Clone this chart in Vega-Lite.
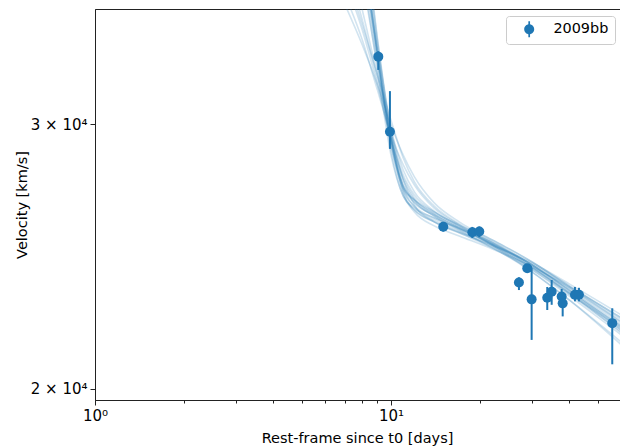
{
  "$schema": "https://vega.github.io/schema/vega-lite/v6.json",
  "autosize": {"type": "none"},
  "padding": {"left": 95, "top": 9, "right": 0, "bottom": 48},
  "width": 525,
  "height": 391,
  "background": "white",
  "config": {
    "font": "DejaVu Sans",
    "view": {"stroke": "#222222", "strokeWidth": 1},
    "axis": {"grid": false, "domainColor": "#222222", "tickColor": "#222222", "labelColor": "#000000", "titleColor": "#000000", "titleFontWeight": "normal", "labelFontSize": 15, "titleFontSize": 14.5, "labelFont": "DejaVu Sans"}
  },
  "datasets": {
    "curves": [
      {"c":1,"x":7,"y":47410},{"c":1,"x":8,"y":39570},{"c":1,"x":9,"y":33500},{"c":1,"x":10,"y":29280},{"c":1,"x":11,"y":27120},{"c":1,"x":12,"y":26460},{"c":1,"x":14,"y":25980},{"c":1,"x":17,"y":25550},{"c":1,"x":22,"y":24970},{"c":1,"x":30,"y":24140},{"c":1,"x":40,"y":23270},{"c":1,"x":60,"y":22020},
      {"c":2,"x":7,"y":45630},{"c":2,"x":8,"y":38560},{"c":2,"x":9,"y":33090},{"c":2,"x":10,"y":29050},{"c":2,"x":11,"y":27200},{"c":2,"x":12,"y":26710},{"c":2,"x":14,"y":26220},{"c":2,"x":17,"y":25670},{"c":2,"x":22,"y":24930},{"c":2,"x":30,"y":24000},{"c":2,"x":40,"y":23060},{"c":2,"x":60,"y":21720},
      {"c":3,"x":7,"y":48510},{"c":3,"x":8,"y":40370},{"c":3,"x":9,"y":33860},{"c":3,"x":10,"y":29820},{"c":3,"x":11,"y":27540},{"c":3,"x":12,"y":26510},{"c":3,"x":14,"y":25830},{"c":3,"x":17,"y":25400},{"c":3,"x":22,"y":24900},{"c":3,"x":30,"y":24220},{"c":3,"x":40,"y":23420},{"c":3,"x":60,"y":22300},
      {"c":4,"x":7,"y":39760},{"c":4,"x":8,"y":35720},{"c":4,"x":9,"y":32340},{"c":4,"x":10,"y":29730},{"c":4,"x":11,"y":27960},{"c":4,"x":12,"y":27040},{"c":4,"x":14,"y":26260},{"c":4,"x":17,"y":25670},{"c":4,"x":22,"y":25010},{"c":4,"x":30,"y":24180},{"c":4,"x":40,"y":23310},{"c":4,"x":60,"y":22090},
      {"c":5,"x":7,"y":37400},{"c":5,"x":8,"y":34640},{"c":5,"x":9,"y":31850},{"c":5,"x":10,"y":29280},{"c":5,"x":11,"y":27620},{"c":5,"x":12,"y":26790},{"c":5,"x":14,"y":26140},{"c":5,"x":17,"y":25590},{"c":5,"x":22,"y":24930},{"c":5,"x":30,"y":24070},{"c":5,"x":40,"y":23170},{"c":5,"x":60,"y":21890},
      {"c":6,"x":7,"y":49250},{"c":6,"x":8,"y":40990},{"c":6,"x":9,"y":34120},{"c":6,"x":10,"y":29500},{"c":6,"x":11,"y":27040},{"c":6,"x":12,"y":26300},{"c":6,"x":14,"y":25830},{"c":6,"x":17,"y":25430},{"c":6,"x":22,"y":24930},{"c":6,"x":30,"y":24260},{"c":6,"x":40,"y":23490},{"c":6,"x":60,"y":22400},
      {"c":7,"x":7,"y":46330},{"c":7,"x":8,"y":39150},{"c":7,"x":9,"y":33340},{"c":7,"x":10,"y":28830},{"c":7,"x":11,"y":26870},{"c":7,"x":12,"y":26380},{"c":7,"x":14,"y":25980},{"c":7,"x":17,"y":25590},{"c":7,"x":22,"y":25050},{"c":7,"x":30,"y":24180},{"c":7,"x":40,"y":23240},{"c":7,"x":60,"y":21890},
      {"c":8,"x":7,"y":47770},{"c":8,"x":8,"y":39760},{"c":8,"x":9,"y":33600},{"c":8,"x":10,"y":29370},{"c":8,"x":11,"y":27330},{"c":8,"x":12,"y":26710},{"c":8,"x":14,"y":26140},{"c":8,"x":17,"y":25630},{"c":8,"x":22,"y":24900},{"c":8,"x":30,"y":23920},{"c":8,"x":40,"y":22920},{"c":8,"x":60,"y":21490},
      {"c":9,"x":7,"y":44940},{"c":9,"x":8,"y":38860},{"c":9,"x":9,"y":33190},{"c":9,"x":10,"y":29140},{"c":9,"x":11,"y":27290},{"c":9,"x":12,"y":26630},{"c":9,"x":14,"y":26060},{"c":9,"x":17,"y":25510},{"c":9,"x":22,"y":24820},{"c":9,"x":30,"y":24000},{"c":9,"x":40,"y":23130},{"c":9,"x":60,"y":21960},
      {"c":10,"x":7,"y":42270},{"c":10,"x":8,"y":37400},{"c":10,"x":9,"y":32840},{"c":10,"x":10,"y":29500},{"c":10,"x":11,"y":27750},{"c":10,"x":12,"y":26910},{"c":10,"x":14,"y":26220},{"c":10,"x":17,"y":25710},{"c":10,"x":22,"y":25120},{"c":10,"x":30,"y":24290},{"c":10,"x":40,"y":23420},{"c":10,"x":60,"y":22230},
      {"c":11,"x":7,"y":50010},{"c":11,"x":8,"y":41310},{"c":11,"x":9,"y":34220},{"c":11,"x":10,"y":29640},{"c":11,"x":11,"y":27200},{"c":11,"x":12,"y":26420},{"c":11,"x":14,"y":25900},{"c":11,"x":17,"y":25470},{"c":11,"x":22,"y":24860},{"c":11,"x":30,"y":24070},{"c":11,"x":40,"y":23200},{"c":11,"x":60,"y":22020},
      {"c":12,"x":7,"y":47050},{"c":12,"x":8,"y":39450},{"c":12,"x":9,"y":33390},{"c":12,"x":10,"y":29190},{"c":12,"x":11,"y":26960},{"c":12,"x":12,"y":26220},{"c":12,"x":14,"y":25670},{"c":12,"x":17,"y":25280},{"c":12,"x":22,"y":24780},{"c":12,"x":30,"y":24110},{"c":12,"x":40,"y":23380},{"c":12,"x":60,"y":22300},
      {"c":13,"x":7,"y":38560},{"c":13,"x":8,"y":35180},{"c":13,"x":9,"y":32090},{"c":13,"x":10,"y":29370},{"c":13,"x":11,"y":27540},{"c":13,"x":12,"y":26710},{"c":13,"x":14,"y":26060},{"c":13,"x":17,"y":25550},{"c":13,"x":22,"y":24970},{"c":13,"x":30,"y":24180},{"c":13,"x":40,"y":23350},{"c":13,"x":60,"y":22160},
      {"c":14,"x":7,"y":46690},{"c":14,"x":8,"y":39270},{"c":14,"x":9,"y":33500},{"c":14,"x":10,"y":29320},{"c":14,"x":11,"y":27250},{"c":14,"x":12,"y":26590},{"c":14,"x":14,"y":26100},{"c":14,"x":17,"y":25590},{"c":14,"x":22,"y":25010},{"c":14,"x":30,"y":24110},{"c":14,"x":40,"y":23170},{"c":14,"x":60,"y":21790},
      {"c":15,"x":7,"y":35990},{"c":15,"x":8,"y":33860},{"c":15,"x":9,"y":31850},{"c":15,"x":10,"y":29960},{"c":15,"x":11,"y":28610},{"c":15,"x":12,"y":27670},{"c":15,"x":14,"y":26590},{"c":15,"x":17,"y":25830},{"c":15,"x":22,"y":25120},{"c":15,"x":30,"y":24290},{"c":15,"x":40,"y":23380},{"c":15,"x":60,"y":22160},
      {"c":16,"x":7,"y":37970},{"c":16,"x":8,"y":34910},{"c":16,"x":9,"y":32340},{"c":16,"x":10,"y":30180},{"c":16,"x":11,"y":28480},{"c":16,"x":12,"y":27460},{"c":16,"x":14,"y":26460},{"c":16,"x":17,"y":25750},{"c":16,"x":22,"y":25050},{"c":16,"x":30,"y":24180},{"c":16,"x":40,"y":23270},{"c":16,"x":60,"y":21960},
      {"c":17,"x":7,"y":36550},{"c":17,"x":8,"y":34120},{"c":17,"x":9,"y":31600},{"c":17,"x":10,"y":29500},{"c":17,"x":11,"y":28180},{"c":17,"x":12,"y":27330},{"c":17,"x":14,"y":26380},{"c":17,"x":17,"y":25710},{"c":17,"x":22,"y":24970},{"c":17,"x":30,"y":24070},{"c":17,"x":40,"y":23130},{"c":17,"x":60,"y":21830},
      {"c":18,"x":7,"y":43580},{"c":18,"x":8,"y":37970},{"c":18,"x":9,"y":32590},{"c":18,"x":10,"y":28610},{"c":18,"x":11,"y":26870},{"c":18,"x":12,"y":26300},{"c":18,"x":14,"y":25830},{"c":18,"x":17,"y":25400},{"c":18,"x":22,"y":24820},{"c":18,"x":30,"y":23920},{"c":18,"x":40,"y":22920},{"c":18,"x":60,"y":21400}
    ],
    "obs": [
      {"s":"2009bb","x":9.06,"y":33260,"lo":32590,"hi":33540},
      {"s":"2009bb","x":9.92,"y":29650,"lo":28880,"hi":31550},
      {"s":"2009bb","x":15.02,"y":25640,"lo":25450,"hi":25790},
      {"s":"2009bb","x":18.83,"y":25420,"lo":25200,"hi":25630},
      {"s":"2009bb","x":19.88,"y":25450,"lo":25230,"hi":25650},
      {"s":"2009bb","x":27.06,"y":23540,"lo":23270,"hi":23730},
      {"s":"2009bb","x":28.87,"y":24060,"lo":23900,"hi":24220},
      {"s":"2009bb","x":29.87,"y":22940,"lo":21560,"hi":24060},
      {"s":"2009bb","x":33.73,"y":23000,"lo":22570,"hi":23380},
      {"s":"2009bb","x":34.91,"y":23210,"lo":22750,"hi":23630},
      {"s":"2009bb","x":37.73,"y":23040,"lo":22700,"hi":23310},
      {"s":"2009bb","x":38.03,"y":22800,"lo":22350,"hi":23060},
      {"s":"2009bb","x":41.84,"y":23100,"lo":22870,"hi":23380},
      {"s":"2009bb","x":43.16,"y":23100,"lo":22870,"hi":23350},
      {"s":"2009bb","x":55.93,"y":22120,"lo":20770,"hi":22630}
    ]
  },
  "layer": [
    {
      "data": {"name": "curves"},
      "mark": {"type": "line", "clip": true, "color": "#1f77b4", "opacity": 0.2, "strokeWidth": 1.6, "interpolate": "monotone"},
      "encoding": {
        "x": {
          "field": "x", "type": "quantitative",
          "scale": {"type": "log", "domain": [1, 59.4], "nice": false},
          "axis": {
            "title": "Rest-frame since t0 [days]",
            "values": [1,2,3,4,5,6,7,8,9,10,20,30,40,50],
            "labelExpr": "datum.value == 1 ? '10⁰' : (datum.value == 10 ? '10¹' : '')",
            "labelPadding": 3,
            "labelOverlap": false,
            "labelFlush": false,
            "tickSize": {"condition": {"test": "datum.value == 1 || datum.value == 10", "value": 5}, "value": 3},
            "titleX": 262,
            "titleY": 42,
            "titleBaseline": "alphabetic",
            "titleAnchor": "middle"
          }
        },
        "y": {
          "field": "y", "type": "quantitative",
          "scale": {"type": "log", "domain": [19666, 35775], "nice": false, "zero": false},
          "axis": {
            "title": "Velocity [km/s]",
            "values": [20000, 30000],
            "labelExpr": "datum.value == 20000 ? '2 × 10⁴' : '3 × 10⁴'",
            "labelPadding": 3,
            "tickSize": 5,
            "titleX": -69,
            "titleY": 195.5,
            "titleBaseline": "alphabetic",
            "titleAnchor": "middle"
          }
        },
        "detail": {"field": "c", "type": "nominal"}
      }
    },
    {
      "data": {"name": "obs"},
      "mark": {"type": "rule", "color": "#1f77b4", "strokeWidth": 2, "clip": true},
      "encoding": {
        "x": {"field": "x", "type": "quantitative"},
        "y": {"field": "lo", "type": "quantitative"},
        "y2": {"field": "hi"}
      }
    },
    {
      "data": {"name": "obs"},
      "mark": {"type": "point", "shape": "circle", "filled": true, "opacity": 1, "size": 100, "clip": true},
      "encoding": {
        "x": {"field": "x", "type": "quantitative"},
        "y": {"field": "y", "type": "quantitative"},
        "color": {
          "field": "s", "type": "nominal",
          "scale": {"range": ["#1f77b4"]},
          "legend": {
            "title": null,
            "orient": "none",
            "legendX": 411,
            "legendY": 7,
            "symbolType": "M-1,0A1,1 0 1,1 1,0A1,1 0 1,1 -1,0Z M-0.17,-1.6L0.17,-1.6L0.17,1.6L-0.17,1.6Z",
            "symbolSize": 100,
            "symbolStrokeWidth": 0,
            "symbolOpacity": 1,
            "labelFontSize": 14.4,
            "labelColor": "#000000",
            "padding": 6,
            "symbolOffset": 10,
            "labelOffset": 17,
            "strokeColor": "#cccccc",
            "fillColor": "white",
            "cornerRadius": 3
          }
        }
      }
    }
  ]
}
